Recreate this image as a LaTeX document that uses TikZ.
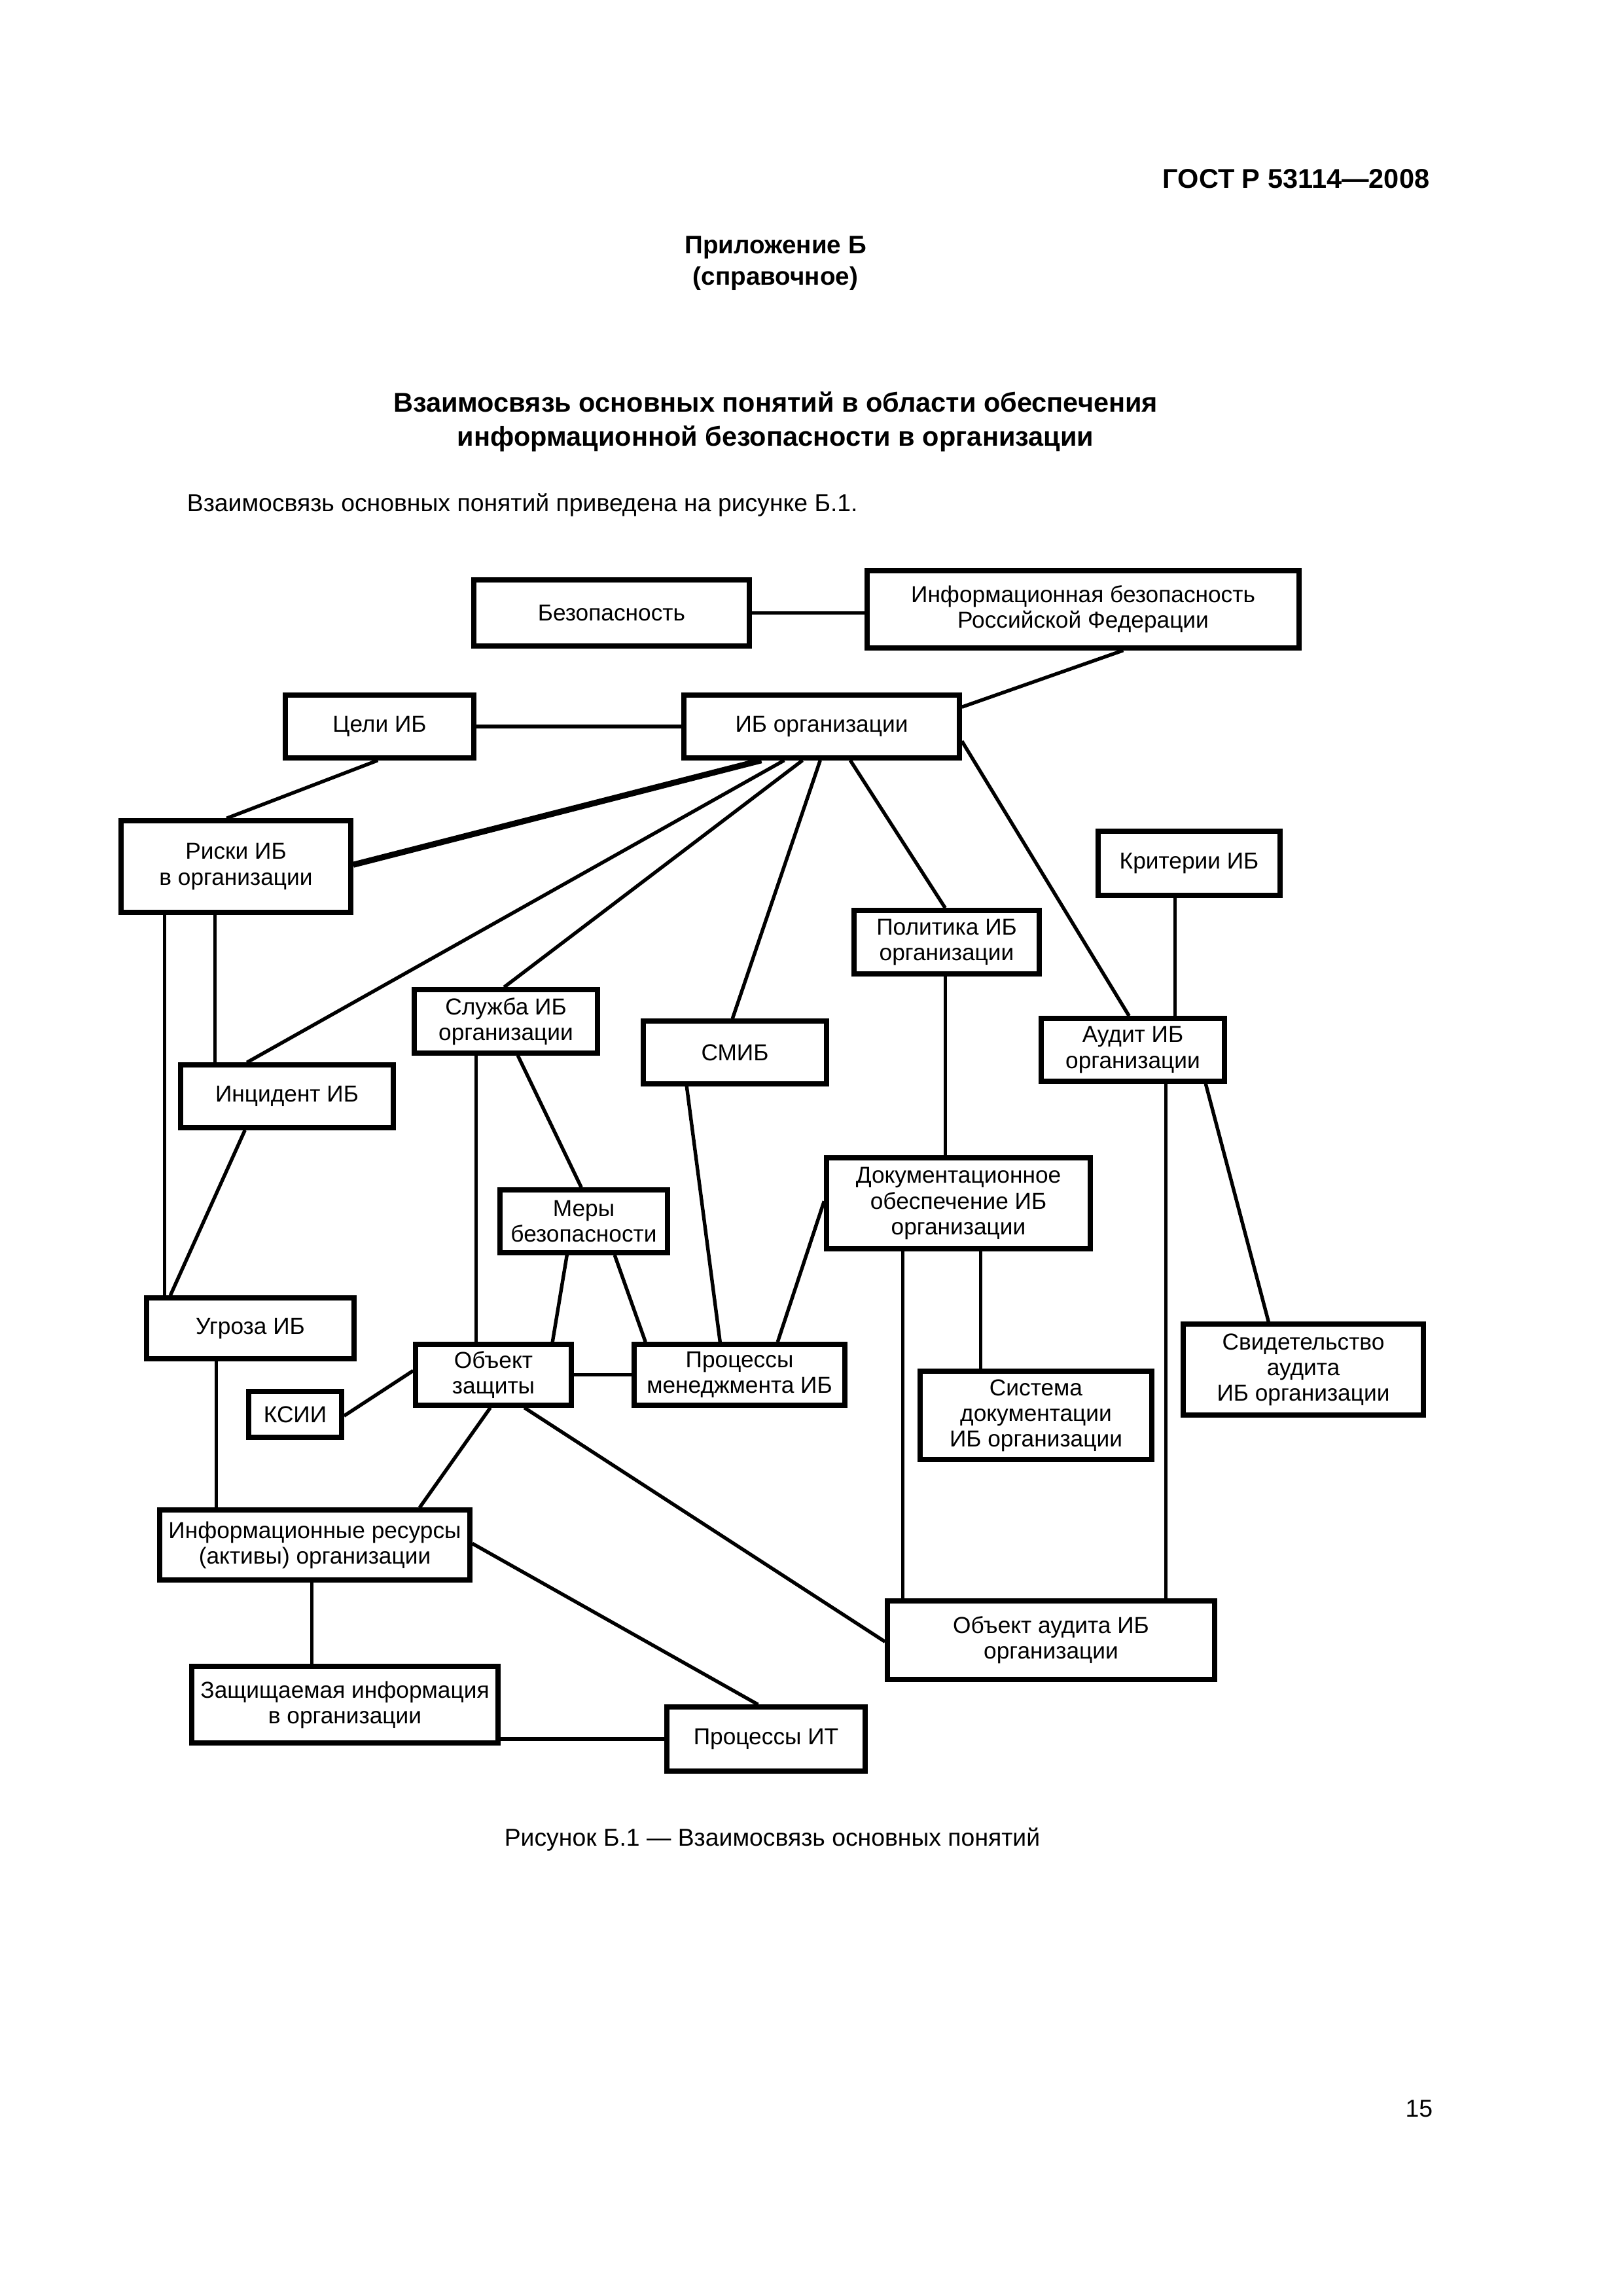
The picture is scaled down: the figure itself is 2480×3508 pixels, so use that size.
\documentclass[tikz,border=0pt]{standalone}
\usepackage{fontspec}
\setmainfont{Liberation Sans}
\usetikzlibrary{calc}
\tikzset{
  box/.style={draw, line width=1.8pt, inner sep=0pt, align=center,
              font=\fontsize{8.5}{9.4}\selectfont},
  conn/.style={line width=1.3pt},
  thickconn/.style={line width=2.2pt},
  pagetext/.style={inner sep=0pt, font=\fontsize{9}{11}\selectfont},
  headtext/.style={inner sep=0pt, font=\fontsize{9.3}{11.5}\selectfont\bfseries, align=center},
}
\newcommand\bx[6]{\node[box, minimum width={(#4-#2)*0.0846667mm}, minimum height={(#5-#3)*0.0846667mm}] (#1) at ({(#2+#4)/2},{(#3+#5)/2}) {#6};}
\begin{document}
\begin{tikzpicture}[x=0.0846667mm, y=-0.0846667mm]
\useasboundingbox (0,0) rectangle (2480,3508);
% page texts
\node[inner sep=0pt, anchor=east, font=\fontsize{10}{12}\selectfont\bfseries] (gost) at (2185,273) {ГОСТ Р 53114—2008};
\node[headtext] (pril) at (1185,402) {Приложение Б\\(справочное)};
\node[headtext, font=\fontsize{10}{12.5}\selectfont\bfseries] (title) at (1185,644) {Взаимосвязь основных понятий в области обеспечения\\информационной безопасности в организации};
\node[pagetext, anchor=west] (intro) at (285,772) {Взаимосвязь основных понятий приведена на рисунке Б.1.};
\node[pagetext] (caption) at (1180,2810) {Рисунок Б.1 — Взаимосвязь основных понятий};
\node[pagetext, anchor=east] (pnum) at (2190,3222) {15};
% boxes
\bx{bez}{724}{886}{1145}{987}{Безопасность}
\bx{ibrf}{1325}{872}{1985}{990}{Информационная безопасность\\Российской Федерации}
\bx{celi}{436}{1062}{724}{1158}{Цели ИБ}
\bx{ibo}{1045}{1062}{1466}{1158}{ИБ организации}
\bx{riski}{185}{1254}{536}{1394}{Риски ИБ\\в организации}
\bx{krit}{1678}{1270}{1956}{1368}{Критерии ИБ}
\bx{polit}{1305}{1391}{1588}{1488}{Политика ИБ\\организации}
\bx{sluzh}{633}{1512}{913}{1609}{Служба ИБ\\организации}
\bx{smib}{983}{1560}{1263}{1656}{СМИБ}
\bx{incid}{276}{1627}{601}{1723}{Инцидент ИБ}
\bx{audit}{1591}{1556}{1871}{1652}{Аудит ИБ\\организации}
\bx{docob}{1263}{1769}{1666}{1908}{Документационное\\обеспечение ИБ\\организации}
\bx{mery}{764}{1818}{1020}{1914}{Меры\\безопасности}
\bx{ugroza}{224}{1983}{541}{2076}{Угроза ИБ}
\bx{objz}{635}{2054}{873}{2147}{Объект\\защиты}
\bx{procm}{969}{2054}{1291}{2147}{Процессы\\менеджмента ИБ}
\bx{ksii}{380}{2126}{522}{2196}{КСИИ}
\bx{sysdoc}{1406}{2095}{1760}{2230}{Система\\документации\\ИБ организации}
\bx{svid}{1808}{2023}{2175}{2162}{Свидетельство\\аудита\\ИБ организации}
\bx{infres}{244}{2307}{718}{2414}{Информационные ресурсы\\(активы) организации}
\bx{obaud}{1356}{2446}{1856}{2566}{Объект аудита ИБ\\организации}
\bx{zash}{293}{2546}{761}{2663}{Защищаемая информация\\в организации}
\bx{procit}{1019}{2608}{1322}{2706}{Процессы ИТ}
% connectors
\draw[conn] (bez.east) -- (bez.east -| ibrf.west);
\draw[conn] ($(ibrf.south west)+(395,0)$) -- ($(ibo.north east)+(0,22)$);
\draw[conn] (celi.east) -- (celi.east -| ibo.west);
\draw[conn] ($(celi.south west)+(145,0)$) -- ($(riski.north west)+(165,0)$);
\draw[thickconn] ($(ibo.south west)+(122,0)$) -- ($(riski.north east)+(0,71)$);
\draw[conn] ($(ibo.south west)+(157,0)$) -- ($(incid.north west)+(105,0)$);
\draw[conn] ($(ibo.south west)+(185,0)$) -- ($(sluzh.north west)+(141,0)$);
\draw[conn] ($(ibo.south west)+(212,0)$) -- ($(smib.north west)+(140,0)$);
\draw[conn] ($(ibo.south west)+(258,0)$) -- ($(polit.north west)+(143,0)$);
\draw[conn] ($(ibo.north east)+(0,74)$) -- ($(audit.north west)+(138,0)$);
\draw[conn] ($(krit.south west)+(121,0)$) -- ($(audit.north west)+(208,0)$);
\draw[conn] ($(riski.south west)+(70,0)$) -- ($(ugroza.north west)+(31,0)$);
\draw[conn] ($(riski.south west)+(147,0)$) -- ($(incid.north west)+(56,0)$);
\draw[conn] ($(incid.south west)+(102,0)$) -- ($(ugroza.north west)+(40,0)$);
\draw[conn] ($(sluzh.south west)+(98,0)$) -- ($(objz.north west)+(96,0)$);
\draw[conn] ($(sluzh.south west)+(162,0)$) -- ($(mery.north west)+(128,0)$);
\draw[conn] ($(smib.south west)+(70,0)$) -- ($(procm.north west)+(135,0)$);
\draw[conn] ($(polit.south west)+(143,0)$) -- ($(docob.north west)+(185,0)$);
\draw[conn] ($(docob.north west)+(0,70)$) -- ($(procm.north west)+(223,0)$);
\draw[conn] ($(mery.south west)+(106,0)$) -- ($(objz.north west)+(213,0)$);
\draw[conn] ($(mery.south west)+(179,0)$) -- ($(procm.north west)+(21,0)$);
\draw[conn] (objz.east) -- (objz.east -| procm.west);
\draw[conn] ($(ksii.north east)+(0,41)$) -- ($(objz.north west)+(0,44)$);
\draw[conn] ($(ugroza.south west)+(110,0)$) -- ($(infres.north west)+(90,0)$);
\draw[conn] ($(objz.south west)+(118,0)$) -- ($(infres.north west)+(401,0)$);
\draw[conn] ($(objz.south west)+(170,0)$) -- ($(obaud.north west)+(0,66)$);
\draw[conn] ($(infres.north east)+(0,55)$) -- ($(procit.north west)+(143,0)$);
\draw[conn] ($(infres.south west)+(236,0)$) -- ($(zash.north west)+(187,0)$);
\draw[conn] (procit.west) -- (procit.west -| zash.east);
\draw[conn] ($(docob.south west)+(120,0)$) -- ($(obaud.north west)+(27,0)$);
\draw[conn] ($(docob.south west)+(239,0)$) -- ($(sysdoc.north west)+(96,0)$);
\draw[conn] ($(audit.south west)+(194,0)$) -- ($(obaud.north west)+(429,0)$);
\draw[conn] ($(audit.south west)+(255,0)$) -- ($(svid.north west)+(134,0)$);
\end{tikzpicture}
\end{document}
